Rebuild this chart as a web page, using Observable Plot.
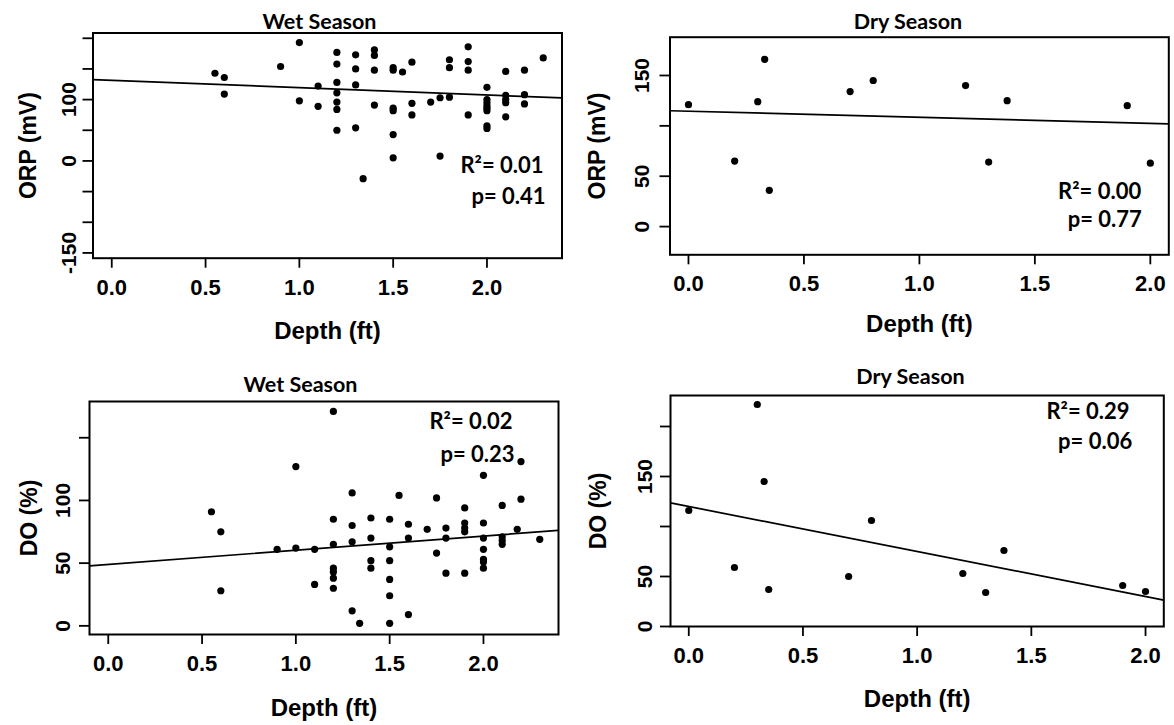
<!DOCTYPE html>
<html>
<head>
<meta charset="utf-8">
<script src="https://cdn.jsdelivr.net/npm/d3@7"></script>
<script src="https://cdn.jsdelivr.net/npm/@observablehq/plot@0.6"></script>
<style>
  html, body { margin: 0; padding: 0; background: #fff; }
  #fig { position: relative; width: 1174px; height: 725px; background: #fff; overflow: hidden; }
  #fig > svg { position: absolute; max-width: none; }
</style>
</head>
<body>
<div id="fig"></div>
<script>
// ---------------- DATA ----------------
// Wet season, ORP (mV) vs depth (ft)
const wetOrpDepth = [0.55, 0.6, 0.6, 0.9, 1.0, 1.0, 1.1, 1.1,
  1.2, 1.2, 1.2, 1.2, 1.2, 1.2, 1.2,
  1.3, 1.3, 1.3, 1.3, 1.34,
  1.4, 1.4, 1.4, 1.4,
  1.5, 1.5, 1.5, 1.5, 1.5, 1.5, 1.55,
  1.6, 1.6, 1.6, 1.7, 1.75, 1.75,
  1.8, 1.8, 1.8, 1.9, 1.9, 1.9, 1.9,
  2.0, 2.0, 2.0, 2.0, 2.0, 2.0, 2.0, 2.0,
  2.1, 2.1, 2.1, 2.1, 2.1, 2.2, 2.2, 2.2, 2.3];
const wetOrp = [143, 136, 109, 154, 193, 98, 122, 89,
  177, 158, 128, 111, 96, 84, 50,
  173, 150, 124, 54, -29,
  181, 172, 148, 91,
  152, 148, 86, 82, 43, 5, 145,
  161, 94, 75, 96, 103, 8,
  165, 152, 104, 186, 162, 148, 75,
  120, 100, 95, 90, 86, 82, 57, 53,
  146, 107, 100, 95, 72, 148, 108, 93, 168];

// Wet season, DO (%) vs depth (ft)
const wetDoDepth = [0.55, 0.6, 0.6, 0.9, 1.0, 1.0, 1.1, 1.1,
  1.2, 1.2, 1.2, 1.2, 1.2, 1.2, 1.2,
  1.3, 1.3, 1.3, 1.3, 1.34,
  1.4, 1.4, 1.4, 1.4,
  1.5, 1.5, 1.5, 1.5, 1.5, 1.5, 1.55,
  1.6, 1.6, 1.6, 1.7, 1.75, 1.75,
  1.8, 1.8, 1.8, 1.9, 1.9, 1.9, 1.9, 1.9,
  2.0, 2.0, 2.0, 2.0, 2.0, 2.0, 2.0,
  2.1, 2.1, 2.1, 2.1, 2.18, 2.2, 2.2, 2.3];
const wetDo = [91, 75, 28, 61, 127, 62, 61, 33,
  171, 85, 65, 46, 43, 38, 30,
  106, 80, 67, 12, 2,
  86, 70, 52, 46,
  85, 63, 52, 37, 24, 2, 104,
  81, 70, 9, 77, 102, 58,
  78, 70, 42, 94, 82, 78, 75, 42,
  120, 82, 70, 61, 53, 51, 46,
  96, 71, 68, 65, 77, 131, 101, 69];

// Dry season (same sampling depths for both variables)
const dryDepth = [0, 0.2, 0.3, 0.33, 0.35, 0.7, 0.8, 1.2, 1.3, 1.38, 1.9, 2.0];
const dryOrp   = [121, 65, 124, 166, 36, 134, 145, 140, 64, 125, 120, 63];
const dryDo    = [116, 59, 222, 145, 37, 50, 106, 53, 34, 76, 41, 35];

// Fitted lines [intercept, slope] and statistics
const fitWetOrp = [131.5, -12];
const fitDryOrp = [114.5, -6];
const fitWetDo  = [49, 11.3];
const fitDryDo  = [120, -45];
const statsWetOrp = ["R\u00b2= 0.01", "p= 0.41"];
const statsDryOrp = ["R\u00b2= 0.00", "p= 0.77"];
const statsWetDo  = ["R\u00b2= 0.02", "p= 0.23"];
const statsDryDo  = ["R\u00b2= 0.29", "p= 0.06"];

// Ticks
const depthTicks = [0, 0.5, 1.0, 1.5, 2.0];
const wetOrpTicks = [-150, -100, -50, 0, 50, 100, 150, 200];
const wetOrpTickLabels = [-150, 0, 100];
const dryOrpTicks = [0, 50, 100, 150];
const dryOrpTickLabels = [0, 50, 150];
const wetDoTicks = [0, 50, 100, 150];
const wetDoTickLabels = [0, 50, 100];
const dryDoTicks = [0, 50, 100, 150, 200];
const dryDoTickLabels = [0, 50, 150];

// ---------------- LAYOUT ----------------
const sansBold = "'Liberation Sans', Arial, sans-serif";
const titleFont = "Lato, 'Open Sans', sans-serif";

const panels = [
  { x: wetOrpDepth, y: wetOrp, fit: fitWetOrp, stats: statsWetOrp,
    title: "Wet Season", ylab: "ORP (mV)",
    xDomain: [-0.1, 2.4], yDomain: [-158.6, 208.6],
    yTicks: wetOrpTicks, yLabels: wetOrpTickLabels,
    box: [0, 0, 587, 362], frame: [92.5, 561.5, 32.5, 257.7],
    titleAt: [319, 28.3], ylabX: 28, xlabBelow: 80.6, yLabCenter: 25,
    statAt: [[543, 172], [545, 203]] },
  { x: dryDepth, y: dryOrp, fit: fitDryOrp, stats: statsDryOrp,
    title: "Dry Season", ylab: "ORP (mV)",
    xDomain: [-0.08, 2.08], yDomain: [-28, 188],
    yTicks: dryOrpTicks, yLabels: dryOrpTickLabels,
    box: [587, 0, 587, 362], frame: [669.5, 1168.3, 36.7, 254.3],
    titleAt: [907.5, 28.3], ylabX: 597, xlabBelow: 77.4, yLabCenter: 29,
    statAt: [[1140.7, 198.3], [1141.3, 226.7]] },
  { x: wetDoDepth, y: wetDo, fit: fitWetDo, stats: statsWetDo,
    title: "Wet Season", ylab: "DO (%)",
    xDomain: [-0.1, 2.4], yDomain: [-6.9, 178.9],
    yTicks: wetDoTicks, yLabels: wetDoTickLabels,
    box: [0, 362, 587, 363], frame: [89, 558, 401, 634],
    titleAt: [300, 391.7], ylabX: 29, xlabBelow: 81, yLabCenter: 27,
    statAt: [[512, 428], [514, 461]] },
  { x: dryDepth, y: dryDo, fit: fitDryDo, stats: statsDryDo,
    title: "Dry Season", ylab: "DO (%)",
    xDomain: [-0.08, 2.08], yDomain: [0, 231],
    yTicks: dryDoTicks, yLabels: dryDoTickLabels,
    box: [587, 362, 587, 363], frame: [670, 1163.3, 395, 626],
    titleAt: [910, 383.3], ylabX: 598, xlabBelow: 80.7, yLabCenter: 26,
    statAt: [[1129, 418.3], [1131.7, 448.3]] }
];

function makePanel(p) {
  const [L, T, W, H] = p.box;
  const [fx0, fx1, fy0, fy1] = p.frame;
  const at = (gx, gy) => ({ frameAnchor: "top-left", dx: gx - fx0, dy: gy - fy0 });
  const pts = p.x.map((d, i) => ({ depth: d, value: p.y[i] }));
  const fitPts = p.xDomain.map(d => ({ depth: d, value: p.fit[0] + p.fit[1] * d }));
  const tickSize = 10;
  const xfs = 22, yfs = 21;
  const svg = Plot.plot({
    width: W, height: H,
    marginLeft: fx0 - L, marginRight: L + W - fx1,
    marginTop: fy0 - T, marginBottom: T + H - fy1,
    x: { domain: p.xDomain, axis: null },
    y: { domain: p.yDomain, axis: null },
    style: { fontFamily: sansBold, fontWeight: "bold", fontSize: xfs + "px", color: "black", background: "white", overflow: "visible" },
    marks: [
      Plot.axisX(depthTicks, { tickSize, tickPadding: 11, fontSize: xfs, tickFormat: d3.format(".1f"), strokeWidth: 1.8, label: null }),
      Plot.axisY(p.yTicks, { tickSize, tickRotate: -90, textAnchor: "middle", lineAnchor: "bottom", fontSize: yfs,
        tickPadding: p.yLabCenter - tickSize - 0.36 * yfs,
        tickFormat: d => p.yLabels.includes(d) ? String(d) : "", strokeWidth: 1.8, label: null }),
      Plot.line(fitPts, { x: "depth", y: "value", stroke: "black", strokeWidth: 1.7, clip: true }),
      Plot.dot(pts, { x: "depth", y: "value", r: 3.6, fill: "black" }),
      Plot.frame({ stroke: "black", strokeWidth: 2 }),
      Plot.text([p.title], { text: d => d, ...at(p.titleAt[0], p.titleAt[1]), textAnchor: "middle", lineAnchor: "bottom",
        fontFamily: titleFont, fontWeight: "bold", fontSize: 21.5 }),
      Plot.text(["Depth (ft)"], { text: d => d, frameAnchor: "bottom", dy: p.xlabBelow, lineAnchor: "bottom", fontSize: 24 }),
      Plot.text([p.ylab], { text: d => d, ...at(p.ylabX, (fy0 + fy1) / 2), rotate: -90, textAnchor: "middle", lineAnchor: "middle", fontSize: 23 }),
      Plot.text([p.stats[0]], { text: d => d, ...at(p.statAt[0][0], p.statAt[0][1]), textAnchor: "end", lineAnchor: "bottom",
        fontFamily: titleFont, fontWeight: "bold", fontSize: 22 }),
      Plot.text([p.stats[1]], { text: d => d, ...at(p.statAt[1][0], p.statAt[1][1]), textAnchor: "end", lineAnchor: "bottom",
        fontFamily: titleFont, fontWeight: "bold", fontSize: 22 })
    ]
  });
  svg.style.left = L + "px";
  svg.style.top = T + "px";
  return svg;
}

const fig = document.getElementById("fig");
for (const p of panels) fig.appendChild(makePanel(p));
</script>
</body>
</html>
